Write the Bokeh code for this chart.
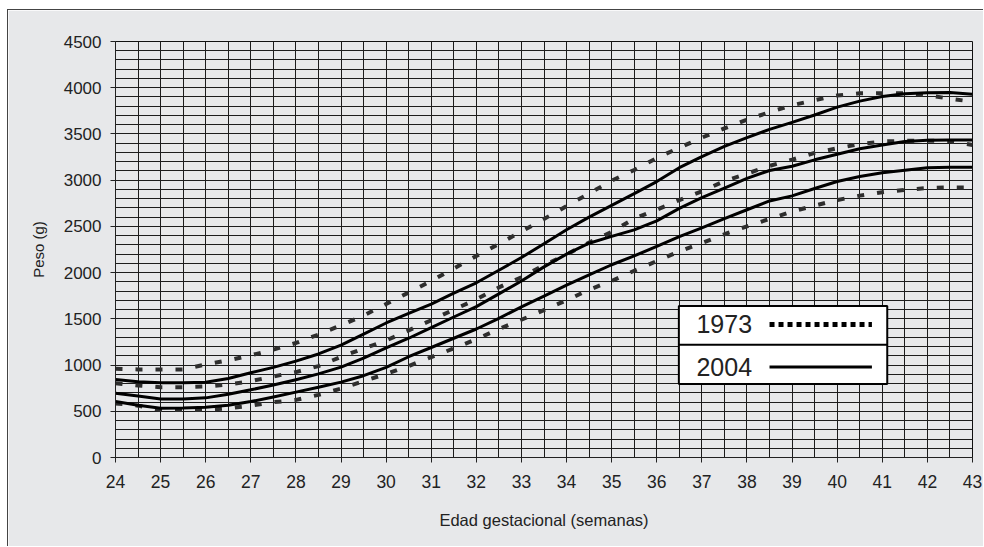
from bokeh.plotting import figure
from bokeh.models import Range1d, SingleIntervalTicker, Label
from bokeh.core.properties import value
from bokeh.embed import file_html
from bokeh.resources import INLINE

# ---- data ----
weeks = [24, 24.5, 25, 25.5, 26, 26.5, 27, 27.5, 28, 28.5, 29, 29.5, 30, 30.5, 31, 31.5,
         32, 32.5, 33, 33.5, 34, 34.5, 35, 35.5, 36, 36.5, 37, 37.5, 38, 38.5, 39, 39.5,
         40, 40.5, 41, 41.5, 42, 42.5, 43]

p90_2004 = [844, 820, 808, 808, 815, 855, 916, 975, 1043, 1120, 1215, 1335, 1455, 1560, 1660, 1778,
            1890, 2025, 2163, 2312, 2463, 2600, 2728, 2855, 2985, 3135, 3255, 3365, 3460, 3550, 3625, 3705,
            3790, 3855, 3905, 3935, 3945, 3948, 3930]
p50_2004 = [696, 665, 634, 634, 645, 685, 732, 785, 841, 905, 978, 1075, 1185, 1290, 1405, 1520,
            1632, 1770, 1910, 2062, 2200, 2318, 2392, 2462, 2560, 2695, 2810, 2915, 3020, 3105, 3150, 3220,
            3280, 3340, 3380, 3418, 3432, 3435, 3435]
p10_2004 = [605, 565, 533, 535, 543, 565, 605, 655, 707, 760, 815, 885, 975, 1090, 1190, 1290,
            1390, 1505, 1630, 1745, 1865, 1975, 2085, 2180, 2285, 2390, 2485, 2585, 2680, 2775, 2830, 2910,
            2985, 3040, 3080, 3108, 3135, 3139, 3139]

p90_1973 = [960, 953, 953, 953, 1007, 1051, 1105, 1167, 1239, 1330, 1430, 1535, 1660, 1785, 1910, 2045,
            2180, 2310, 2445, 2580, 2720, 2855, 2995, 3110, 3240, 3350, 3460, 3560, 3655, 3735, 3810, 3865,
            3915, 3940, 3941, 3941, 3920, 3880, 3850]
p50_1973 = [804, 779, 761, 761, 768, 790, 826, 877, 924, 989, 1088, 1180, 1265, 1375, 1485, 1600,
            1710, 1840, 1950, 2080, 2195, 2325, 2440, 2585, 2680, 2785, 2880, 2990, 3070, 3155, 3222, 3295,
            3345, 3390, 3418, 3426, 3427, 3424, 3380]
p10_1973 = [585, 561, 514, 514, 514, 533, 561, 598, 623, 677, 745, 825, 905, 990, 1085, 1180,
            1280, 1390, 1490, 1595, 1700, 1815, 1910, 2020, 2125, 2230, 2320, 2415, 2500, 2580, 2660, 2725,
            2785, 2833, 2870, 2895, 2915, 2922, 2922]

legend_labels = ["1973", "2004"]
end_labels = ["90", "50"]

# ---- layout / style constants ----
FONT = "Liberation Sans"
BG = "#e7e8ea"
INK = "#222222"

p = figure(width=976, height=537,
           x_range=Range1d(24, 43), y_range=Range1d(0, 4500),
           output_backend="svg", toolbar_location=None,
           min_border_left=107, min_border_right=12, min_border_top=31, min_border_bottom=90,
           background_fill_color=BG, border_fill_color=BG,
           outline_line_color="#111111", outline_line_width=1)
p.margin = (9, 0, 0, 7)
p.styles = {"border-left": "1px solid #444444", "border-top": "1px solid #444444"}

p.xaxis.ticker = SingleIntervalTicker(interval=1)
p.yaxis.ticker = SingleIntervalTicker(interval=500)
p.xgrid.ticker = SingleIntervalTicker(interval=0.5)
p.ygrid.ticker = SingleIntervalTicker(interval=100)
p.grid.grid_line_color = "#1c1c1c"
p.grid.grid_line_width = 1
p.grid.grid_line_alpha = 1.0

p.axis.minor_tick_line_color = None
p.axis.major_tick_in = 0
p.axis.major_tick_out = 5
p.axis.major_tick_line_color = INK
p.axis.axis_line_color = INK
p.axis.major_label_text_font = FONT
p.axis.major_label_text_color = INK
p.xaxis.major_label_text_font_size = "17.5px"
p.yaxis.major_label_text_font_size = "17px"
p.axis.axis_label_text_font = FONT
p.axis.axis_label_text_font_style = "normal"
p.axis.axis_label_text_color = INK
p.xaxis.axis_label_text_font_size = "16.5px"
p.yaxis.axis_label_text_font_size = "15px"
p.xaxis.major_label_standoff = 12
p.yaxis.major_label_standoff = 9
p.xaxis.axis_label = "Edad gestacional (semanas)"
p.yaxis.axis_label = "Peso (g)"
p.xaxis.axis_label_standoff = 20
p.yaxis.axis_label_standoff = 14

# 1973 curves (dashed)
for s in (p90_1973, p50_1973, p10_1973):
    p.line(weeks, s, line_color="#2e2e2e", line_width=4, line_dash="7 13")
# 2004 curves (solid)
for s in (p90_2004, p50_2004, p10_2004):
    p.line(weeks, s, line_color="#000000", line_width=3, line_join="round")

# end labels for percentiles
for txt, s in zip(end_labels, (p90_1973, p50_1973)):
    p.add_layout(Label(x=weeks[-1], y=s[-1], text=txt, x_offset=1, y_offset=-7,
                       text_baseline="middle", text_align="left",
                       text_font=FONT, text_font_size="12px", text_color="#555555"))

# legend box (layout constants in data units)
LG_L, LG_R, LG_B, LG_T, LG_MID = 36.49, 41.11, 796, 1638, 1219
LG_TEXT_X = 36.88
LG_LINE_X0, LG_LINE_X1 = 38.5, 40.77
LG_ROW_Y = [1439, 980]
p.quad(left=[LG_L], right=[LG_R], bottom=[LG_B], top=[LG_T],
       fill_color="white", line_color="black", line_width=2)
p.segment(x0=[LG_L], x1=[LG_R], y0=[LG_MID], y1=[LG_MID], line_color="black", line_width=2)
p.text(x=[LG_TEXT_X] * 2, y=LG_ROW_Y, text=legend_labels, text_baseline="middle",
       text_font=value(FONT), text_font_size="25px", text_color="#222222")
p.line([LG_LINE_X0, LG_LINE_X1], [LG_ROW_Y[0]] * 2, line_color="black", line_width=5, line_dash="5 4")
p.line([LG_LINE_X0, LG_LINE_X1], [LG_ROW_Y[1]] * 2, line_color="black", line_width=3)

open("out.html", "w").write(file_html(p, INLINE))
